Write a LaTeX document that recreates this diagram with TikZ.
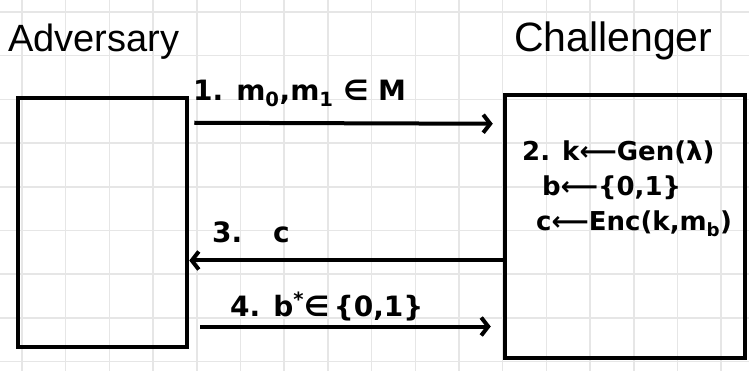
\documentclass[tikz,border=0pt]{standalone}
\usepackage{fontspec}
\setmainfont{Liberation Sans}
\newfontfamily\markerfont{DejaVu Sans}
\usetikzlibrary{arrows.meta,positioning,calc}
\definecolor{gridgray}{HTML}{E6E6E6}
\definecolor{ink}{HTML}{000000}
\newcommand{\sub}[1]{\textsubscript{#1}}

\begin{document}
\begin{tikzpicture}[x=1pt, y=-1pt,
    party/.style={draw=ink, line width=4.5pt, inner sep=0pt},
    msg/.style={draw=ink, line width=4pt, -{Straight Barb[length=7pt,width=18pt]}},
    who/.style={font=\fontsize{38}{40}\selectfont, anchor=base west, inner sep=0pt},
    lbl/.style={font=\markerfont\bfseries\fontsize{28}{32}\selectfont, anchor=base west, inner sep=0pt},
    stepline/.style={lbl, font=\markerfont\bfseries\fontsize{26}{30}\selectfont}]
  \useasboundingbox (0,0) rectangle (749,371);
  % squared paper
  \foreach \k in {0,...,16}
    \draw[gridgray, line width=1.5pt] (22+43.7*\k,0) -- (22+43.7*\k,371);
  \foreach \k in {0,...,8}
    \draw[gridgray, line width=1.5pt] (0,12+43.7*\k) -- (749,12+43.7*\k);

  % the two parties
  \node[who] (advname) at (8,52) {Adversary};
  \node[who, font=\fontsize{41}{43}\selectfont] (chalname) at (514,52) {Challenger};
  \node[party, minimum width=169pt, minimum height=249pt] (adv) at (102.5,222.5) {};
  \node[party, minimum width=240pt, minimum height=263pt] (chal) at (625,226.5) {};

  % messages
  \draw[msg] ($(adv.north east)+(5,27)$) -- ($(chal.north west)+(-10,31)$);
  \draw[msg] ($(chal.west)+(0,34)$) -- ($(adv.east)+(0,38)$);
  \draw[msg] ($(adv.east)+(11,104)$) -- ($(chal.west)+(-12,100)$);

  \node[lbl] (m1) at (193,101) {1. m\sub{0},m\sub{1} ∈ M};
  \node[lbl] (m3) at (212,243) {3.\hspace{1.1em}c};
  \node[lbl] (m4) at (230,316) {4. b\textsuperscript{*}∈\,\{0,1\}};

  % challenger's steps
  \node[stepline] (s1) at (522,161) {2. k⟵Gen(λ)};
  \node[stepline] (s2) at (542,196) {b⟵\{0,1\}};
  \node[stepline] (s3) at (536,231) {c⟵Enc(k,m\sub{b})};
\end{tikzpicture}
\end{document}
